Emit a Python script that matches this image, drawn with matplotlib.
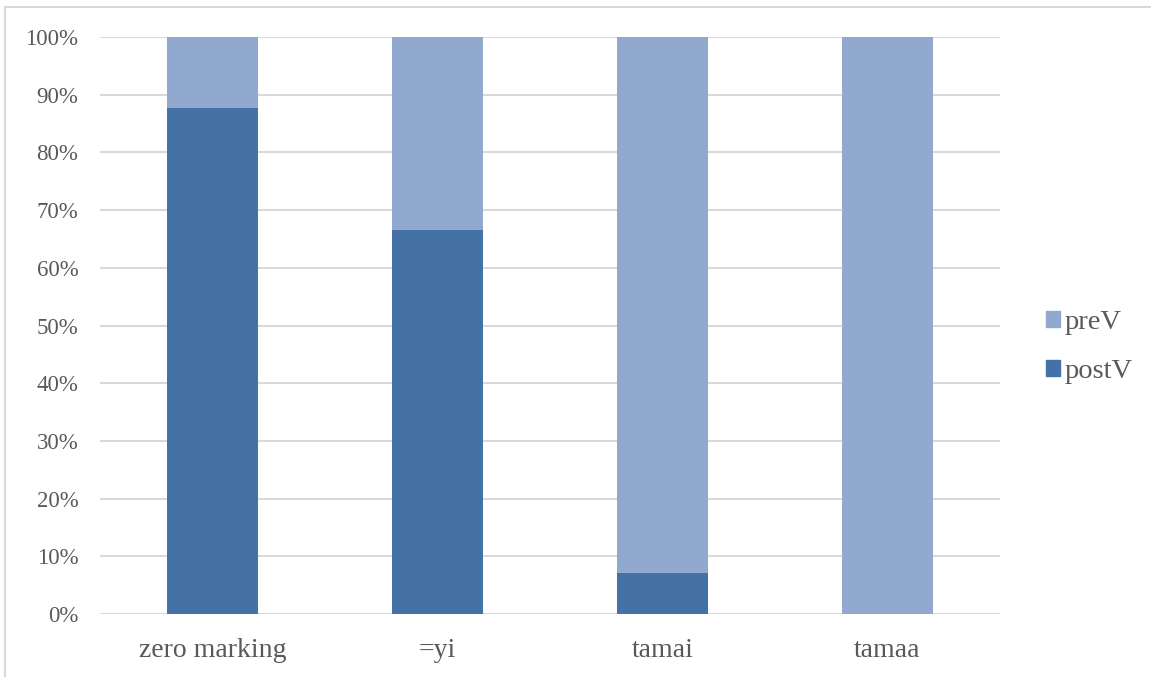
import matplotlib
matplotlib.use("Agg")
import matplotlib.pyplot as plt
from matplotlib.patches import Rectangle, Patch
from matplotlib.ticker import FuncFormatter

categories = ["zero marking", "=yi", "tamai", "tamaa"]
postV = [87.7, 66.6, 7.1, 0.0]
preV = [100 - v for v in postV]
series_names = ["preV", "postV"]

c_pre = "#91A9CF"
c_post = "#4472A7"
txt = "#595959"

plt.rcParams['font.family'] = ['Liberation Serif', 'DejaVu Serif']

fig = plt.figure(figsize=(11.51, 6.77), dpi=100)
W, H = 1151, 677
ax = fig.add_axes([100 / W, 1 - 614 / H, 900 / W, 577 / H])

x = list(range(len(categories)))
ax.bar(x, postV, width=0.405, color=c_post, zorder=3)
ax.bar(x, preV, bottom=postV, width=0.405, color=c_pre, zorder=3)

ax.set_xlim(-0.5, len(categories) - 0.5)
ax.set_ylim(0, 100)
ax.set_yticks(range(0, 101, 10))
ax.yaxis.set_major_formatter(FuncFormatter(lambda v, p: f"{int(v)}%"))
ax.set_xticks(x)
ax.set_xticklabels(categories)
ax.grid(axis='y', color="#D9D9D9", linewidth=1.5, zorder=0)
for s in ax.spines.values():
    s.set_visible(False)
ax.tick_params(length=0, colors=txt, labelcolor=txt)
ax.tick_params(axis='y', pad=15.5, labelsize=16.5)
ax.tick_params(axis='x', pad=17, labelsize=20)

handles = [Patch(color=c_pre), Patch(color=c_post)]
fig.legend(handles, series_names, loc='center left', bbox_to_anchor=(1020 / W, 1 - 347 / H),
           frameon=False, fontsize=20.5, labelcolor=txt, handlelength=0.5, handleheight=0.5,
           handletextpad=0.18, labelspacing=0.85)

fig.patches.append(Rectangle((5 / W, -0.1), 1.2, 1 - 7 / H + 0.1, transform=fig.transFigure,
                             fill=False, edgecolor="#D9D9D9", linewidth=1.5))

fig.savefig("out.png", dpi=100)
